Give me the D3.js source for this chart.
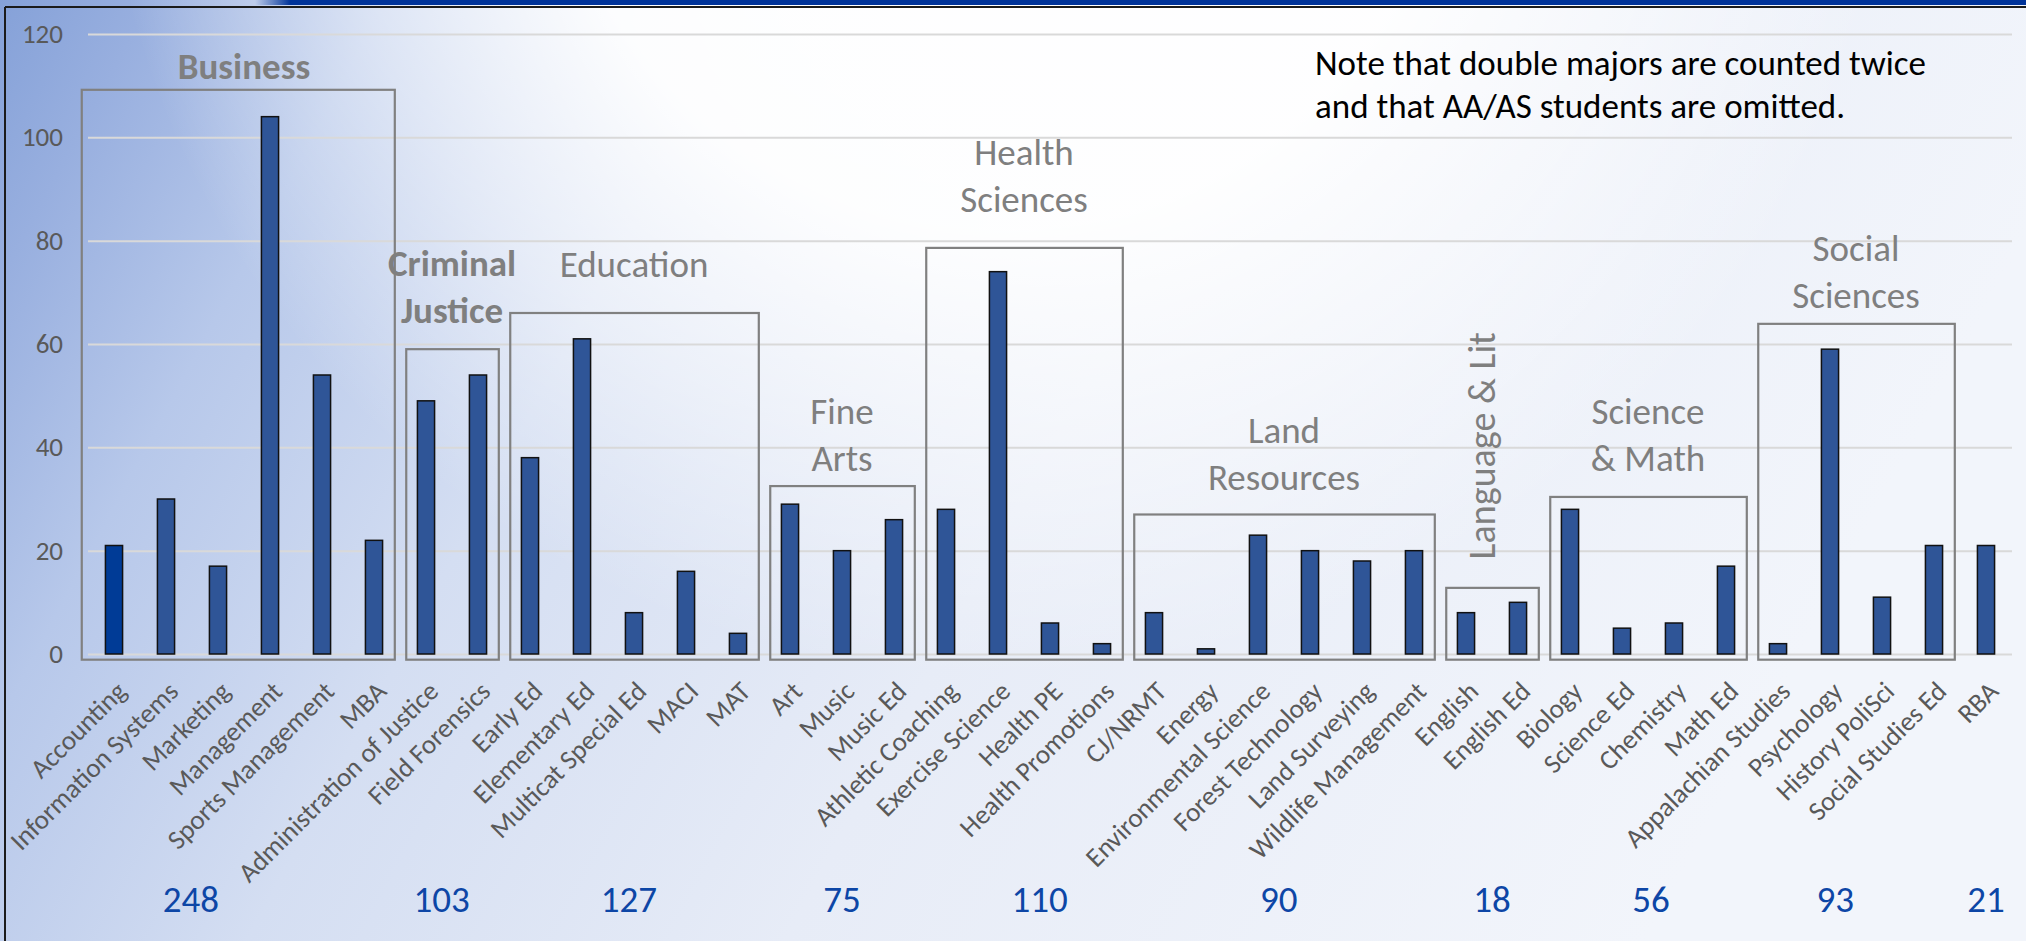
<!DOCTYPE html>
<html>
<head>
<meta charset="utf-8">
<script src="https://cdn.jsdelivr.net/npm/d3@7"></script>
<style>
html, body { margin: 0; padding: 0; background: #fff; }
svg { display: block; font-family: Carlito, Calibri, Lato, sans-serif; }
svg text { font-family: Carlito, Calibri, Lato, sans-serif; }
</style>
</head>
<body>
<svg id="chart" width="2026" height="941"></svg>
<script>
// majors, left to right
const majors = ['Accounting','Information Systems','Marketing','Management','Sports Management','MBA',
    'Administration of Justice','Field Forensics',
    'Early Ed','Elementary Ed','Multicat Special Ed','MACI','MAT',
    'Art','Music','Music Ed',
    'Athletic Coaching','Exercise Science','Health PE','Health Promotions',
    'CJ/NRMT','Energy','Environmental Science','Forest Technology','Land Surveying','Wildlife Management',
    'English','English Ed',
    'Biology','Science Ed','Chemistry','Math Ed',
    'Appalachian Studies','Psychology','History PoliSci','Social Studies Ed',
    'RBA'];
const students = [21,30,17,104,54,22, 49,54, 38,61,8,16,4, 29,20,26, 28,74,6,2, 8,1,23,20,18,20, 8,10, 28,5,6,17, 2,59,11,21, 21];

// departments: how many majors each covers, in order
const departments = ['Business','Criminal Justice','Education','Fine Arts','Health Sciences','Land Resources','Language & Lit','Science & Math','Social Sciences','RBA'];
const deptSize = [6,2,5,3,4,6,2,4,4,1];
const deptLabelLines = [['Business'],['Criminal','Justice'],['Education'],['Fine','Arts'],['Health','Sciences'],['Land','Resources'],['Language & Lit'],['Science','& Math'],['Social','Sciences'],[]];
const deptBold = [true,true,false,false,false,false,false,false,false,false];
// annotation placement in chart units (value axis / band units)
const deptBoxTop = [109.2,59,66,32.5,78.6,27,12.8,30.4,63.9,null];
const deptLabelBase = [111.3,64.1,73.0,35.4,85.5,31.7,40.3,35.4,67.0,null];
const totalAt = [1.98,6.8,10.4,14.5,18.3,22.9,27.0,30.06,33.6,36.5];

const yTicks = [0,20,40,60,80,100,120];
const noteLines = ['Note that double majors are counted twice','and that AA/AS students are omitted.'];

const FONT = 'Carlito, Calibri, Lato, sans-serif';
const svg = d3.select('#chart');
const W = 2026, H = 941;
const defs = svg.append('defs');

// slide background
let bg = defs.append('linearGradient').attr('id','bgGrad')
    .attr('x1',0).attr('y1',0).attr('x2',1).attr('y2',0.25);
[[0,'#85a1d8'],[0.07,'#98afdf'],[0.18,'#b7c8ea'],[0.35,'#d4def2'],[0.6,'#e7ecf7'],[1,'#f2f5fb']].forEach(function(s){
    bg.append('stop').attr('offset',s[0]).attr('stop-color',s[1]);
});
let sheen = defs.append('radialGradient').attr('id','sheen')
    .attr('gradientUnits','userSpaceOnUse').attr('cx',1000).attr('cy',-220).attr('r',900);
[[0,1],[0.5,0.95],[0.75,0.5],[1,0]].forEach(function(s){
    sheen.append('stop').attr('offset',s[0]).attr('stop-color','#fff').attr('stop-opacity',s[1]);
});
let bar = defs.append('linearGradient').attr('id','topBar').attr('x1',0).attr('x2',1);
bar.append('stop').attr('offset',0).attr('stop-color','#003399').attr('stop-opacity',0);
bar.append('stop').attr('offset',0.02).attr('stop-color','#003399').attr('stop-opacity',1);
bar.append('stop').attr('offset',1).attr('stop-color','#003399');

svg.append('rect').attr('width',W).attr('height',H).attr('fill','url(#bgGrad)');
svg.append('rect').attr('width',W).attr('height',H).attr('fill','url(#sheen)');
svg.append('rect').attr('x',255).attr('y',0).attr('width',W-255).attr('height',5).attr('fill','url(#topBar)');
svg.append('line').attr('x1',5).attr('x2',W).attr('y1',7).attr('y2',7).attr('stroke','#1b1b1b').attr('stroke-width',2);
svg.append('line').attr('x1',5).attr('x2',5).attr('y1',7).attr('y2',H).attr('stroke','#1b1b1b').attr('stroke-width',2);

// scales
let x = d3.scaleBand().domain(majors).range([88,2012]).paddingInner(0.67).paddingOuter(0.335);
let y = d3.scaleLinear().domain([0,120]).range([654,34]);
let step = x.step();
let u0 = x(majors[0]) + x.bandwidth()/2 - step/2;
function bx(u) { return u0 + u*step; }

// gridlines + y labels
let yAxis = svg.append('g')
    .attr('transform','translate(88,0)')
    .call(d3.axisLeft(y).tickValues(yTicks).tickSize(-(2012-88)).tickPadding(25));
yAxis.attr('font-family',FONT).attr('font-size',null);
yAxis.select('.domain').remove();
yAxis.selectAll('line').attr('stroke','#d9d9d9').attr('stroke-width',2);
yAxis.selectAll('text').attr('fill','#595959').style('font-size','27px');

// x labels
let xAxis = svg.append('g')
    .attr('transform','translate(0,' + y(0) + ')')
    .call(d3.axisBottom(x).tickSize(0));
xAxis.attr('font-family',FONT).attr('font-size',null);
xAxis.select('.domain').remove();
xAxis.selectAll('text')
    .attr('x',0).attr('y',0).attr('dy',0)
    .attr('text-anchor','end')
    .attr('transform','translate(14,39) rotate(-45)')
    .attr('fill','#595959')
    .style('font-size','27px');

// bars
svg.append('g').selectAll('rect')
    .data(majors)
    .enter().append('rect')
    .attr('x', function(d){ return x(d); })
    .attr('y', function(d,i){ return y(students[i]); })
    .attr('width', x.bandwidth())
    .attr('height', function(d,i){ return y(0) - y(students[i]); })
    .attr('fill', function(d,i){ return i === 0 ? '#003b96' : '#2f5597'; })
    .attr('stroke','#111')
    .attr('stroke-width',1.5);

// department boxes, labels and totals
let start = 0;
departments.forEach(function(name,i){
    let end = start + deptSize[i];
    let total = d3.sum(students.slice(start,end));
    let cx = bx((start+end)/2);

    if (deptBoxTop[i] !== null) {
        let left = bx(i === 0 ? start - 0.12 : start + 0.12);
        let right = bx(end - 0.1);
        svg.append('rect')
            .attr('x',left).attr('y',y(deptBoxTop[i]))
            .attr('width',right-left).attr('height',y(-1.1) - y(deptBoxTop[i]))
            .attr('fill','none').attr('stroke','#808080').attr('stroke-width',2.2);
    }

    let lines = deptLabelLines[i];
    if (name === 'Language & Lit') {
        svg.append('text')
            .attr('transform','translate(' + (cx+3) + ',' + y(deptLabelBase[i]) + ') rotate(-90)')
            .attr('text-anchor','middle')
            .attr('fill','#7f7f7f').style('font-size','38px')
            .text(lines[0]);
    } else if (lines.length) {
        lines.forEach(function(t,k){
            svg.append('text')
                .attr('x',cx)
                .attr('y',y(deptLabelBase[i]) - (lines.length-1-k)*47)
                .attr('text-anchor','middle')
                .attr('fill','#7f7f7f')
                .style('font-size','37px')
                .style('font-weight',deptBold[i] ? 'bold' : 'normal')
                .text(t);
        });
    }

    svg.append('text')
        .attr('x',bx(totalAt[i])).attr('y',912)
        .attr('text-anchor','middle')
        .attr('fill','#0d46a6')
        .style('font-size','37px')
        .text(total);

    start = end;
});

// note
svg.append('g').selectAll('text')
    .data(noteLines)
    .enter().append('text')
    .attr('x',1315)
    .attr('y',function(d,i){ return 75 + i*43; })
    .attr('fill','#000')
    .style('font-size','35px')
    .text(function(d){ return d; });
</script>
</body>
</html>
